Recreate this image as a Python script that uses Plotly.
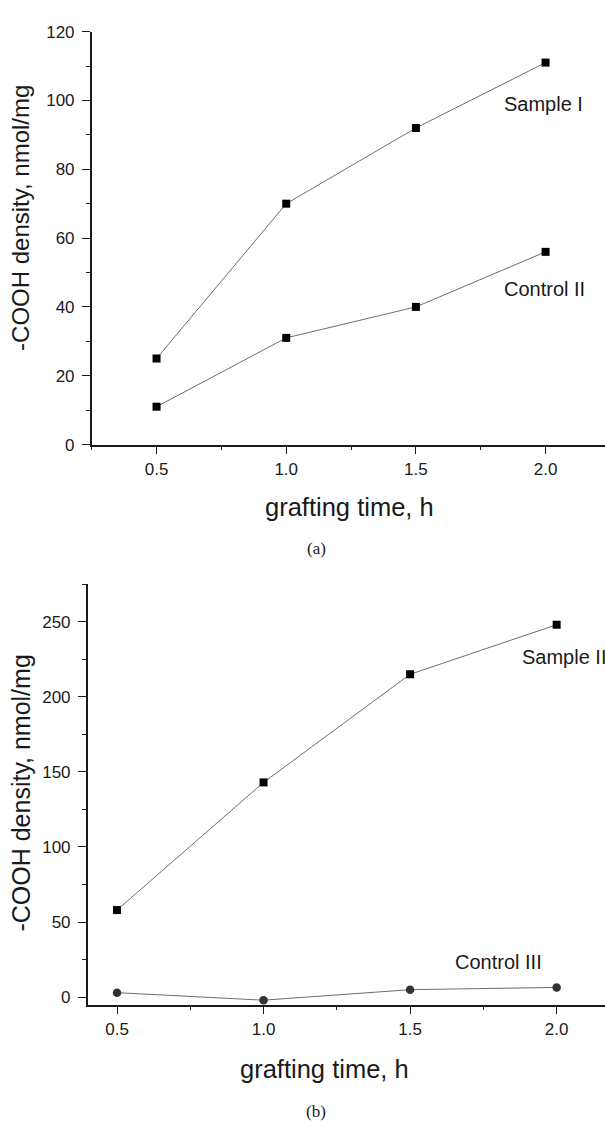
import plotly.graph_objects as go

W, H = 605, 1131

# ---- data ----
time_h = [0.5, 1.0, 1.5, 2.0]
sample_I = [25, 70, 92, 111]
control_II = [11, 31, 40, 56]
sample_II = [58, 143, 215, 248]
control_III = [3, -2, 5, 6.5]

x_title = "grafting time, h"
y_title = "-COOH density, nmol/mg"


def px_x(p):
    return p / W


def px_y(p):
    return 1 - p / H


FONT = "Liberation Sans, Arial, sans-serif"
INK = "#1a1a1a"
LINE = "#6e6e6e"

fig = go.Figure()

# top panel series
fig.add_trace(go.Scatter(x=time_h, y=sample_I, mode="lines+markers",
                         line=dict(color=LINE, width=1),
                         marker=dict(symbol="square", size=8, color="#000"),
                         xaxis="x", yaxis="y", cliponaxis=False))
fig.add_trace(go.Scatter(x=time_h, y=control_II, mode="lines+markers",
                         line=dict(color=LINE, width=1),
                         marker=dict(symbol="square", size=8, color="#000"),
                         xaxis="x", yaxis="y", cliponaxis=False))
# bottom panel series
fig.add_trace(go.Scatter(x=time_h, y=sample_II, mode="lines+markers",
                         line=dict(color=LINE, width=1),
                         marker=dict(symbol="square", size=8, color="#000"),
                         xaxis="x2", yaxis="y2", cliponaxis=False))
fig.add_trace(go.Scatter(x=time_h, y=control_III, mode="lines+markers",
                         line=dict(color=LINE, width=1),
                         marker=dict(symbol="circle", size=8.5, color="#333"),
                         xaxis="x2", yaxis="y2", cliponaxis=False))

common_axis = dict(showline=True, linecolor=INK, linewidth=1.5, mirror=False,
                   ticks="outside", ticklen=8, tickwidth=1.2, tickcolor=INK,
                   showgrid=False, zeroline=False,
                   tickfont=dict(family=FONT, size=17, color=INK))

fig.update_layout(
    width=W, height=H,
    margin=dict(l=0, r=0, t=0, b=0),
    paper_bgcolor="white", plot_bgcolor="white",
    showlegend=False, hovermode=False,
    xaxis=dict(common_axis, domain=[px_x(91.7), 1.0], range=[0.25, 2.229],
               tickmode="linear", tick0=0.5, dtick=0.5, tickformat=".1f",
               minor=dict(ticks="outside", ticklen=4, tickwidth=1.2, tickcolor=INK,
                          tick0=0.25, dtick=0.25, showgrid=False),
               anchor="y"),
    yaxis=dict(common_axis, domain=[px_y(443), px_y(23)], range=[0, 120],
               tickmode="linear", tick0=0, dtick=20,
               minor=dict(ticks="outside", ticklen=4, tickwidth=1.2, tickcolor=INK,
                          tick0=0, dtick=10, showgrid=False),
               ticklabelstandoff=4, anchor="x"),
    xaxis2=dict(common_axis, domain=[px_x(87.7), 1.0], range=[0.4, 2.165],
                tickmode="linear", tick0=0.5, dtick=0.5, tickformat=".1f",
                minor=dict(ticks="outside", ticklen=4, tickwidth=1.2, tickcolor=INK,
                           tick0=0.25, dtick=0.25, showgrid=False),
                anchor="y2"),
    yaxis2=dict(common_axis, domain=[px_y(1012.7), px_y(585)], range=[-5, 275],
                tickmode="linear", tick0=0, dtick=50,
                minor=dict(ticks="outside", ticklen=4, tickwidth=1.2, tickcolor=INK,
                           tick0=0, dtick=25, showgrid=False),
                ticklabelstandoff=4, anchor="x2"),
)

annos = [
    # series labels
    dict(text="Sample I", x=1.83, y=99, xref="x", yref="y", xanchor="left", yanchor="middle",
         font=dict(family=FONT, size=20, color=INK)),
    dict(text="Control II", x=1.83, y=45.3, xref="x", yref="y", xanchor="left", yanchor="middle",
         font=dict(family=FONT, size=20, color=INK)),
    dict(text="Sample II", x=1.875, y=226.6, xref="x2", yref="y2", xanchor="left", yanchor="middle",
         font=dict(family=FONT, size=20, color=INK)),
    dict(text="Control III", x=1.80, y=23.3, xref="x2", yref="y2", xanchor="center", yanchor="middle",
         font=dict(family=FONT, size=20, color=INK)),
    # axis titles
    dict(text=x_title, x=px_x(349.3), y=px_y(506.7), xref="paper", yref="paper",
         xanchor="center", yanchor="middle", font=dict(family=FONT, size=25.5, color=INK)),
    dict(text=y_title, x=px_x(21), y=px_y(212.5), xref="paper", yref="paper", textangle=-90,
         xanchor="center", yanchor="middle", font=dict(family=FONT, size=24, color=INK)),
    dict(text=x_title, x=px_x(324.7), y=px_y(1078), xref="paper", yref="paper",
         xanchor="center", yanchor="middle", font=dict(family=FONT, size=25.5, color=INK)),
    dict(text=y_title, x=px_x(21), y=px_y(798), xref="paper", yref="paper", textangle=-90,
         xanchor="center", yanchor="middle", font=dict(family=FONT, size=25, color=INK)),
    # panel captions
    dict(text="(a)", x=px_x(316), y=px_y(548.3), xref="paper", yref="paper",
         xanchor="center", yanchor="middle",
         font=dict(family="Liberation Serif, Times New Roman, serif", size=17, color=INK)),
    dict(text="(b)", x=px_x(316), y=px_y(1121), xref="paper", yref="paper",
         xanchor="center", yanchor="middle",
         font=dict(family="Liberation Serif, Times New Roman, serif", size=17, color=INK)),
]
for a in annos:
    a["showarrow"] = False
fig.update_layout(annotations=annos)

fig.write_html("out.html", config={"displayModeBar": False})
